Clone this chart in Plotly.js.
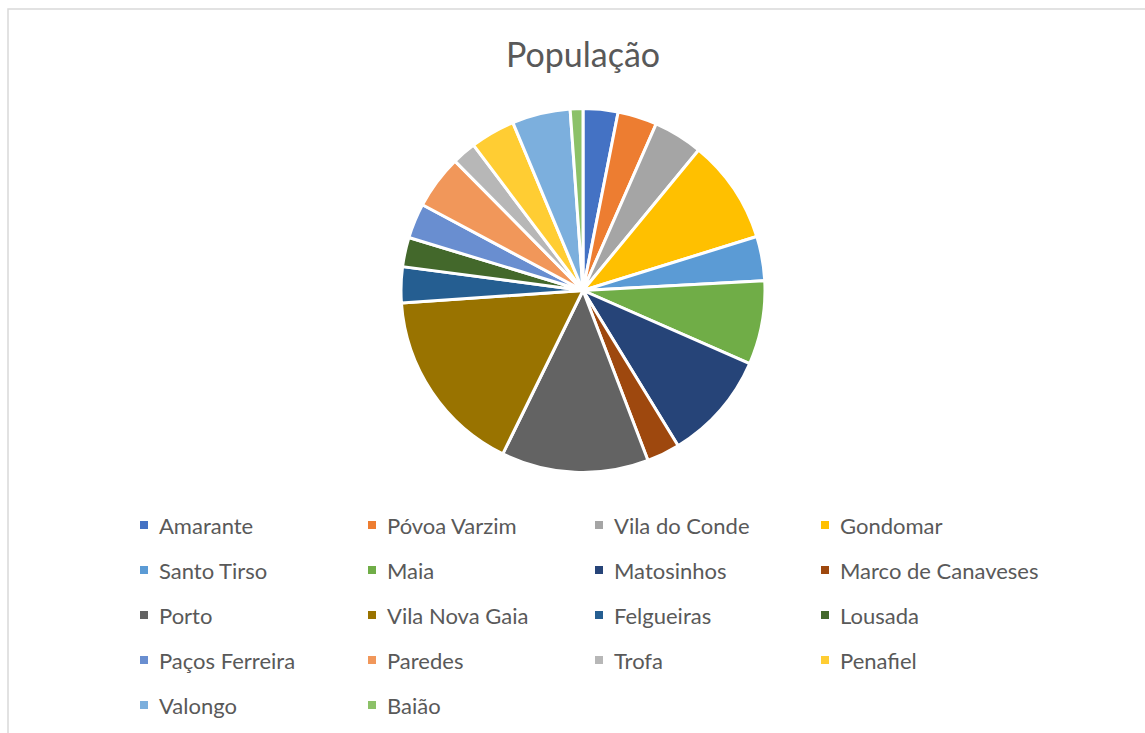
<!DOCTYPE html>
<html>
<head>
<meta charset="utf-8">
<script src="https://cdn.plot.ly/plotly-3.0.1.min.js"></script>
<style>html,body{margin:0;padding:0;background:#fff;}#chart{width:1145px;height:733px;}</style>
</head>
<body>
<div id="chart"></div>
<script>
const labels = ["Amarante","Póvoa Varzim","Vila do Conde","Gondomar","Santo Tirso","Maia","Matosinhos","Marco de Canaveses","Porto","Vila Nova Gaia","Felgueiras","Lousada","Paços Ferreira","Paredes","Trofa","Penafiel","Valongo","Baião"];
const population = [56264,63408,79533,168027,71530,135306,175478,53450,237591,302295,58065,47387,56340,86854,38999,72265,93858,20522];
const colors = ["#4472C4","#ED7D31","#A5A5A5","#FFC000","#5B9BD5","#70AD47","#264478","#9E480E","#636363","#997300","#255E91","#43682B","#698ED0","#F1975A","#B7B7B7","#FFCD33","#7CAFDD","#8CC168"];
const titleText = "População";

const W = 1145, H = 733;
const FONT = "Lato, sans-serif";
const TXT = "#595959";

const trace = {
  type: "pie",
  labels: labels,
  values: population,
  sort: false,
  direction: "clockwise",
  rotation: 0,
  textinfo: "none",
  hoverinfo: "label+value+percent",
  showlegend: false,
  marker: {colors: colors, line: {color: "#ffffff", width: 3}},
  domain: {x: [401/W, 765/W], y: [1-473/H, 1-108/H]}
};

// legend built from labels/colors arrays
const annotations = [], shapes = [];
const colX = [157, 385, 612, 838];
const row0 = 525, rowGap = 45;
labels.forEach((lab, i) => {
  const c = i % 4, r = Math.floor(i / 4);
  const tx = colX[c], ty = row0 + r * rowGap;
  annotations.push({
    xref: "paper", yref: "paper", x: tx / W, y: 1 - ty / H,
    xanchor: "left", yanchor: "middle", showarrow: false,
    text: lab, font: {family: FONT, size: 22, color: TXT}
  });
  shapes.push({
    type: "rect", xref: "paper", yref: "paper",
    x0: (tx - 17) / W, x1: (tx - 9) / W,
    y0: 1 - (ty + 4) / H, y1: 1 - (ty - 4) / H,
    fillcolor: colors[i], line: {width: 0}
  });
});
// chart border
shapes.push({type: "rect", xref: "paper", yref: "paper",
  x0: 8 / W, x1: 1.05, y0: -0.05, y1: 1 - 9 / H,
  line: {color: "#D9D9D9", width: 1.5}, fillcolor: "rgba(0,0,0,0)"});

const layout = {
  width: W, height: H,
  margin: {l: 0, r: 0, t: 0, b: 0},
  paper_bgcolor: "#ffffff",
  title: {text: titleText, x: 583 / W, xanchor: "center", y: 1 - 55 / H, yanchor: "middle",
    font: {family: FONT, size: 34, color: TXT}},
  showlegend: false,
  annotations: annotations,
  shapes: shapes
};

Plotly.newPlot("chart", [trace], layout, {displayModeBar: false, staticPlot: true});
</script>
</body>
</html>
